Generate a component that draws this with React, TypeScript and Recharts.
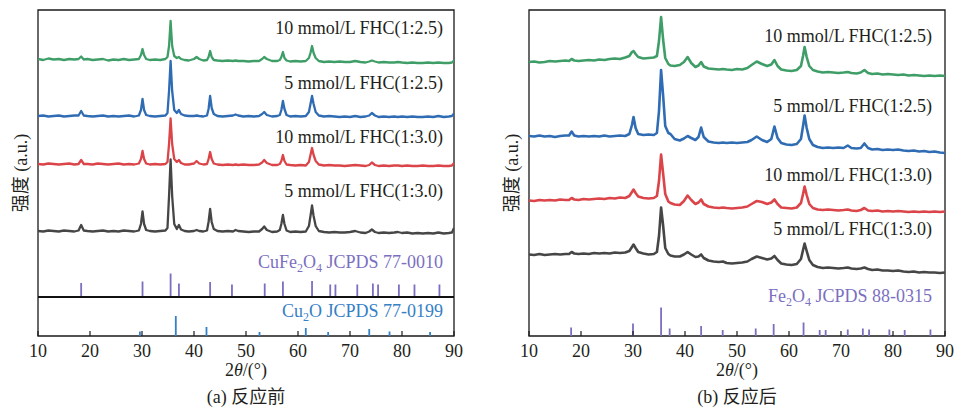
import React from 'react';
import { ComposedChart, Line, XAxis, YAxis, ReferenceArea, ReferenceLine } from 'recharts';

const FONT = '"Liberation Serif", "Times New Roman", "Noto Sans CJK SC", serif';
const TEXT = '#231f20';
const C_GREEN = '#3f9e67';
const C_BLUE = '#2f6cb3';
const C_RED = '#db4448';
const C_BLACK = '#464646';
const C_PURPLE = '#7b6fbf';
const C_CU2O = '#3580c6';

const xTicks = [10, 20, 30, 40, 50, 60, 70, 80, 90];
const yDomain: [number, number] = [0, 326];

// ---------- (a) before reaction ----------
const anglesA = [
  10, 11, 12, 13, 14, 15, 16, 17, 17.8, 18.3,
  18.8, 19.5, 20.5, 21.5, 22.5, 23.5, 24.5, 25.5, 26.5, 27.5,
  28.5, 29.4, 29.8, 30.1, 30.4, 30.8, 31.5, 32.5, 33.5, 34.5,
  34.9, 35.2, 35.5, 35.8, 36.2, 36.7, 37.1, 37.5, 38.2, 39,
  40, 40.5, 41, 41.8, 42.5, 42.8, 43.1, 43.4, 43.8, 44.5,
  45.5, 46.5, 47.5, 48, 48.5, 49.5, 50.5, 51.5, 52.5, 53.1,
  53.5, 54, 55, 56, 56.5, 56.8, 57.1, 57.4, 57.8, 58.5,
  59.5, 60.5, 61.5, 62.1, 62.4, 62.7, 63.0, 63.4, 64, 65,
  66, 67, 68, 69, 70, 71, 72, 73, 73.7, 74.2,
  74.8, 75.5, 76.5, 77.5, 78.5, 79.2, 80, 81, 82, 83,
  84, 85, 86, 87, 88, 89, 89.6, 90,
];
const greenA = [
  277, 276, 277.5, 276.5, 277, 276, 277, 276.5, 277, 279.5,
  276.5, 277, 276, 276.5, 277, 275.5, 276.5, 276, 277, 276,
  276.5, 277, 281, 287, 281, 277, 276, 276.5, 276, 277,
  279, 290, 315, 290, 280, 278, 279, 277, 276, 275.5,
  277, 279, 277, 275.5, 276, 279, 285, 279, 276, 275.5,
  275, 275.5, 275, 275.5, 275, 275, 274.5, 275, 275, 277,
  279, 277, 275, 275, 276, 279, 284, 278, 275.5, 274.5,
  275, 274.5, 275, 278, 283, 290, 283, 278, 275, 274,
  274.5, 274, 274.5, 274, 274, 275, 274, 273.5, 274.5, 275.5,
  274.5, 273.5, 274, 273.5, 273.5, 274, 273.5, 273, 273.5, 273,
  273, 273.5, 273, 273.5, 273, 273, 273.5, 275.5,
];
const blueA = [
  220, 220.5, 219.5, 220, 220.5, 219.5, 220, 220.5, 220.5, 225,
  220.5, 220, 219.5, 220, 220.5, 219.5, 220, 219.5, 220, 220.5,
  219.5, 220.5, 226, 237, 226, 221, 220, 219.5, 220, 220.5,
  223, 245, 275, 245, 226, 223, 226, 222, 220.5, 220,
  220, 220.5, 220, 219.5, 220.5, 227, 240, 228, 222, 220,
  219.5, 220, 220.5, 221.5, 220.5, 219.5, 220, 219.5, 220, 222,
  224, 221, 219.5, 220, 221, 226, 235, 227, 221, 219.5,
  220, 219.5, 220, 224, 232, 240, 232, 224, 220.5, 219.5,
  220, 219.5, 219, 219.5, 219, 220, 219, 219.5, 220.5, 223,
  220.5, 219, 219.5, 219, 219.5, 219, 219.5, 219, 219.5, 219,
  219, 219.5, 219, 220, 219, 219.5, 220, 222.5,
];
const redA = [
  172, 171.5, 172.5, 172, 171.5, 172, 172.5, 171.5, 172, 176,
  172, 172, 171.5, 172.5, 172, 171.5, 172, 172.5, 171.5, 172,
  171.5, 172.5, 177, 185, 177, 172.5, 171.5, 172, 171.5, 172,
  174, 192, 217.5, 192, 177, 174, 176, 173, 171.5, 171.5,
  172.5, 175, 172.5, 171.5, 172, 177, 184, 177, 172.5, 171.5,
  171, 171.5, 171, 171.5, 171, 171.5, 171, 171, 171.5, 173.5,
  176, 173, 171, 171, 172, 175, 181, 175, 171.5, 171,
  170.5, 171, 170.5, 174, 181, 188, 181, 175, 171.5, 170.5,
  171, 170.5, 170.5, 170, 170.5, 171, 170.5, 170, 171, 173.5,
  171, 170, 170.5, 170, 170.5, 170.5, 170, 170.5, 170, 170,
  170.5, 170, 170, 170.5, 170, 170, 170.5, 173,
];
const blackA = [
  105, 104.5, 105.5, 105, 104.5, 105.5, 105, 104.5, 105.5, 111,
  105.5, 105, 104.5, 105, 105.5, 104.5, 105, 104.5, 105.5, 105,
  104.5, 105.5, 112, 124.5, 112, 106, 105, 104.5, 105, 105.5,
  108, 140, 176.5, 140, 112, 107, 111, 106.5, 105, 104.5,
  105, 106, 105, 104.5, 105.5, 114, 127, 114, 107, 105,
  104.5, 105, 104.5, 106, 105, 104.5, 104, 104.5, 104.5, 107,
  109.5, 106, 104, 104.5, 106, 112, 121, 112, 105.5, 104,
  104.5, 104, 104.5, 110, 120, 130.5, 120, 110, 105, 104,
  103.5, 104, 103.5, 103.5, 104, 105, 103.5, 103, 104.5, 106.5,
  104, 103, 103.5, 103, 103.5, 104, 103, 103.5, 102.5, 103,
  102.5, 103, 102.5, 103.5, 102.5, 103, 103.5, 108,
];

// reference patterns (a)
const separatorLevel = 39;
const cuFeAngles = [18.3, 30.1, 35.5, 37.1, 43.1, 47.3, 53.6, 57.1, 62.7, 66.2, 67.2, 71.4, 74.4, 75.4, 79.4, 82.4, 87.2];
const cuFeHeights = [14, 15.5, 23.5, 13.5, 15, 12.5, 13.5, 15.5, 16, 12.5, 12.5, 12.5, 13.5, 12.5, 12.5, 12.5, 12.5];
const cu2oAngles = [29.6, 36.5, 42.4, 52.6, 61.5, 65.8, 73.7, 77.6, 85.4];
const cu2oHeights = [4.5, 20, 9, 4, 8, 4, 7, 4.5, 4];

// ---------- (b) after reaction ----------
const anglesB = [
  10, 11, 12, 13, 14, 15, 16, 17, 17.7, 18.2,
  18.7, 19.5, 20.5, 21.5, 22.5, 23.5, 24.5, 25.5, 26.5, 27.5,
  28.5, 29.3, 29.8, 30.1, 30.5, 31, 32, 33, 34, 34.6,
  35.0, 35.4, 35.8, 36.2, 36.8, 37.2, 38, 39, 39.8, 40.5,
  41.2, 42, 42.6, 43.1, 43.6, 44.5, 45.5, 46.5, 47.3, 48,
  49, 50, 51, 52, 52.8, 53.8, 54.8, 55.8, 56.6, 57.2,
  57.8, 58.5, 59.5, 60.5, 61.5, 62.3, 62.7, 63.0, 63.4, 63.9,
  64.6, 65.5, 66.5, 67.5, 68.5, 69.5, 70.5, 71.3, 72, 73,
  73.8, 74.5, 75.2, 76, 77, 78, 79, 80, 81, 82,
  83, 84, 85, 86, 87, 88, 89, 90,
];
const greenB = [
  274, 274.5, 273.5, 274, 275, 274.5, 275, 275.5, 275, 277,
  275.5, 275, 275.5, 276, 275.5, 276.5, 276, 277, 277.5, 277,
  278.5, 280, 284, 285, 282, 279, 277.5, 278, 278.5, 280,
  295, 319, 296, 278, 272, 270.5, 270, 271, 274, 279,
  273, 269, 270.5, 274, 269.5, 267.5, 267, 266.5, 267, 266.5,
  266, 267, 266.5, 268, 271, 274.5, 272, 270, 271.5, 276,
  270, 266.5, 265.5, 265, 266, 270, 280, 289, 279, 270,
  266, 264.5, 263.5, 264, 263.5, 263, 263.5, 264, 263, 262.5,
  263.5, 266, 263, 262, 262.5, 261.5, 262, 261.5, 261, 261.5,
  260.5, 261, 260.5, 260, 260.5, 260, 260.5, 260,
];
const blueB = [
  200, 199.5, 200.5, 199.5, 200, 199, 200, 200.5, 200.5, 204.5,
  200.5, 199.5, 200, 199.5, 200, 199.5, 200.5, 199.5, 200, 200.5,
  200, 202, 211, 219, 208, 202, 201, 201.5, 201, 203,
  225, 266, 240, 210, 203, 202, 197, 195.5, 197.5, 200,
  198, 196, 199, 208.5, 199, 194.5, 193.5, 193, 193.5, 193,
  193.5, 193, 193.5, 194, 196, 199.5, 196, 194, 197, 209.5,
  198, 193, 191.5, 191, 192, 197, 210, 220.5, 208, 197,
  191, 189, 188, 188.5, 188, 188.5, 188, 190.5, 188, 187.5,
  188, 192.5, 188, 186.5, 187, 186, 186.5, 186, 186.5, 185.5,
  185, 185.5, 184.5, 185, 184, 184.5, 183.5, 183,
];
const redB = [
  135.5, 135, 136, 135.5, 136, 135.5, 136.5, 136, 136, 138,
  136.5, 136, 137, 136.5, 137, 137.5, 137, 138, 137.5, 138.5,
  138, 140, 144, 146.5, 143, 139.5, 138, 137.5, 138, 140,
  155, 181.5, 162, 142, 134.5, 133, 131.5, 131, 135, 140.5,
  136, 132, 133.5, 136.5, 132, 129.5, 128.5, 128, 128.5, 128,
  127.5, 128, 128.5, 129.5, 132, 135, 134, 132, 133.5, 136.5,
  132, 128.5, 128, 127.5, 128.5, 133, 142, 149.5, 141, 132,
  128, 126.5, 126, 126.5, 126, 125.5, 126, 126.5, 125.5, 125,
  126, 128, 125.5, 125, 125.5, 124.5, 125, 124.5, 125, 124.5,
  124, 124.5, 124, 124.5, 124, 124.5, 124, 124.5,
];
const blackB = [
  81.5, 81, 82, 81, 81.5, 82, 81.5, 82, 82, 84,
  82.5, 82, 82.5, 82, 83, 82.5, 83, 82.5, 83.5, 83,
  83.5, 85, 89, 91.5, 88, 84, 82.5, 81.5, 82, 84,
  100, 128.5, 110, 88, 82, 80.5, 79.5, 79.5, 81.5, 84,
  81.5, 79, 79.5, 81.5, 78, 75.5, 74.5, 74, 74.5, 73,
  72.5, 73, 73.5, 74.5, 77, 79.5, 78, 76.5, 77.5, 80,
  76, 72.5, 71.5, 71, 72, 77, 86, 92.5, 85, 76,
  71, 69, 68, 68.5, 68, 67.5, 68, 68.5, 67.5, 67,
  67.5, 68.5, 67, 66, 66.5, 65.5, 65.5, 65, 65.5, 64.5,
  64, 64.5, 63.5, 64, 63.5, 63.5, 63, 63.5,
];
const feAngles = [18.1, 30.0, 35.4, 37.05, 43.1, 47.25, 53.6, 57.05, 62.8, 65.9, 67.05, 71.3, 74.2, 75.4, 79.3, 82.25, 87.2];
const feHeights = [8.5, 12.5, 28.5, 7.5, 10, 6, 7.5, 12, 13.5, 6, 6, 6.5, 7.5, 6.5, 6.5, 6, 6.5];

const seriesNames = ['10 mmol/L FHC(1:2.5)', '5 mmol/L FHC(1:2.5)', '10 mmol/L FHC(1:3.0)', '5 mmol/L FHC(1:3.0)'];

function buildRows(angles: number[], g: number[], b: number[], r: number[], k: number[]) {
  return angles.map((x, i) => ({ x, g: g[i], b: b[i], r: r[i], k: k[i] }));
}
function buildSticks(angles: number[], heights: number[], base: number) {
  const out: { x: number; y: number | null }[] = [];
  angles.forEach((a, i) => {
    out.push({ x: a, y: base });
    out.push({ x: a, y: base + heights[i] });
    out.push({ x: a, y: null });
  });
  return out;
}

const rowsA = buildRows(anglesA, greenA, blueA, redA, blackA);
const rowsB = buildRows(anglesB, greenB, blueB, redB, blackB);
const sticksCuFe = buildSticks(cuFeAngles, cuFeHeights, separatorLevel);
const sticksCu2O = buildSticks(cu2oAngles, cu2oHeights, 0);
const sticksFe = buildSticks(feAngles, feHeights, 0);

type StickSet = { data: { x: number; y: number | null }[]; color: string };

function Panel(props: {
  rows: any[];
  sticks: StickSet[];
  separator?: number;
  lineWidth: number;
  margin: { top: number; right: number; bottom: number; left: number };
}) {
  const { rows, sticks, separator, margin, lineWidth } = props;
  const series = [
    { key: 'g', color: C_GREEN },
    { key: 'b', color: C_BLUE },
    { key: 'r', color: C_RED },
    { key: 'k', color: C_BLACK },
  ];
  return (
    <ComposedChart width={477} height={412} data={rows} margin={margin}>
      <XAxis
        type="number"
        dataKey="x"
        domain={[10, 90]}
        ticks={xTicks}
        interval={0}
        allowDataOverflow
        height={30}
        tickSize={-5}
        tickMargin={13}
        axisLine={false}
        tickLine={{ stroke: '#1a1a1a', strokeWidth: 1.2 }}
        tick={{ fill: TEXT, fontSize: 18, fontFamily: FONT }}
      />
      <YAxis type="number" domain={yDomain} hide allowDataOverflow />
      {series.map((s) => (
        <Line
          key={s.key}
          dataKey={s.key}
          type="linear"
          stroke={s.color}
          strokeWidth={lineWidth}
          strokeLinejoin="round"
          dot={false}
          activeDot={false}
          isAnimationActive={false}
        />
      ))}
      {sticks.map((st, i) => (
        <Line
          key={'st' + i}
          data={st.data}
          dataKey="y"
          type="linear"
          stroke={st.color}
          strokeWidth={1.8}
          dot={false}
          activeDot={false}
          connectNulls={false}
          isAnimationActive={false}
        />
      ))}
      {separator !== undefined && (
        <ReferenceLine y={separator} stroke="#111" strokeWidth={2} ifOverflow="visible" />
      )}
      <ReferenceArea
        x1={10}
        x2={90}
        y1={yDomain[0]}
        y2={yDomain[1]}
        fill="none"
        fillOpacity={0}
        stroke="#1a1a1a"
        strokeWidth={1.3}
        ifOverflow="visible"
      />
    </ComposedChart>
  );
}

export default function App() {
  const txt = { fontFamily: FONT, fill: TEXT, fontSize: 18 } as const;
  return (
    <div style={{ position: 'absolute', left: 0, top: 0, width: 954, height: 412, background: '#fff' }}>
      <div style={{ position: 'absolute', left: 0, top: 0 }}>
        <Panel
          rows={rowsA}
          sticks={[
            { data: sticksCuFe, color: C_PURPLE },
            { data: sticksCu2O, color: C_CU2O },
          ]}
          separator={separatorLevel}
          lineWidth={2.3}
          margin={{ top: 10, right: 23, bottom: 46, left: 38 }}
        />
      </div>
      <div style={{ position: 'absolute', left: 477, top: 0 }}>
        <Panel
          rows={rowsB}
          sticks={[{ data: sticksFe, color: C_PURPLE }]}
          lineWidth={2.6}
          margin={{ top: 10, right: 9, bottom: 46, left: 52 }}
        />
      </div>
      <svg
        width={954}
        height={412}
        style={{ position: 'absolute', left: 0, top: 0, pointerEvents: 'none' }}
      >
        {/* panel (a) labels */}
        <g {...txt}>
          <text x={443} y={33.5} textAnchor="end">{seriesNames[0]}</text>
          <text x={443} y={88.5} textAnchor="end">{seriesNames[1]}</text>
          <text x={443} y={142.5} textAnchor="end">{seriesNames[2]}</text>
          <text x={443} y={196.5} textAnchor="end">{seriesNames[3]}</text>
          <text x={443} y={267.5} textAnchor="end" fill={C_PURPLE}>
            CuFe<tspan fontSize={12} dy={4}>2</tspan>
            <tspan dy={-4}>O</tspan>
            <tspan fontSize={12} dy={4}>4</tspan>
            <tspan dy={-4}> JCPDS 77-0010</tspan>
          </text>
          <text x={443} y={316.5} textAnchor="end" fill={C_CU2O}>
            Cu<tspan fontSize={12} dy={4}>2</tspan>
            <tspan dy={-4}>O JCPDS 77-0199</tspan>
          </text>
          <text x={246} y={375.5} textAnchor="middle">
            2<tspan fontStyle="italic">θ</tspan>/(°)
          </text>
          <text x={246} y={403} textAnchor="middle">(a) 反应前</text>
          <text transform="translate(21,173) rotate(-90)" textAnchor="middle" dominantBaseline="central">
            强度 (a.u.)
          </text>
        </g>
        {/* panel (b) labels */}
        <g {...txt}>
          <text x={932} y={41.5} textAnchor="end">{seriesNames[0]}</text>
          <text x={932} y={111.5} textAnchor="end">{seriesNames[1]}</text>
          <text x={932} y={180.5} textAnchor="end">{seriesNames[2]}</text>
          <text x={932} y={234.5} textAnchor="end">{seriesNames[3]}</text>
          <text x={932} y={302} textAnchor="end" fill={C_PURPLE}>
            Fe<tspan fontSize={12} dy={4}>2</tspan>
            <tspan dy={-4}>O</tspan>
            <tspan fontSize={12} dy={4}>4</tspan>
            <tspan dy={-4}> JCPDS 88-0315</tspan>
          </text>
          <text x={737} y={375.5} textAnchor="middle">
            2<tspan fontStyle="italic">θ</tspan>/(°)
          </text>
          <text x={737} y={403} textAnchor="middle">(b) 反应后</text>
          <text transform="translate(512,173) rotate(-90)" textAnchor="middle" dominantBaseline="central">
            强度 (a.u.)
          </text>
        </g>
      </svg>
    </div>
  );
}
